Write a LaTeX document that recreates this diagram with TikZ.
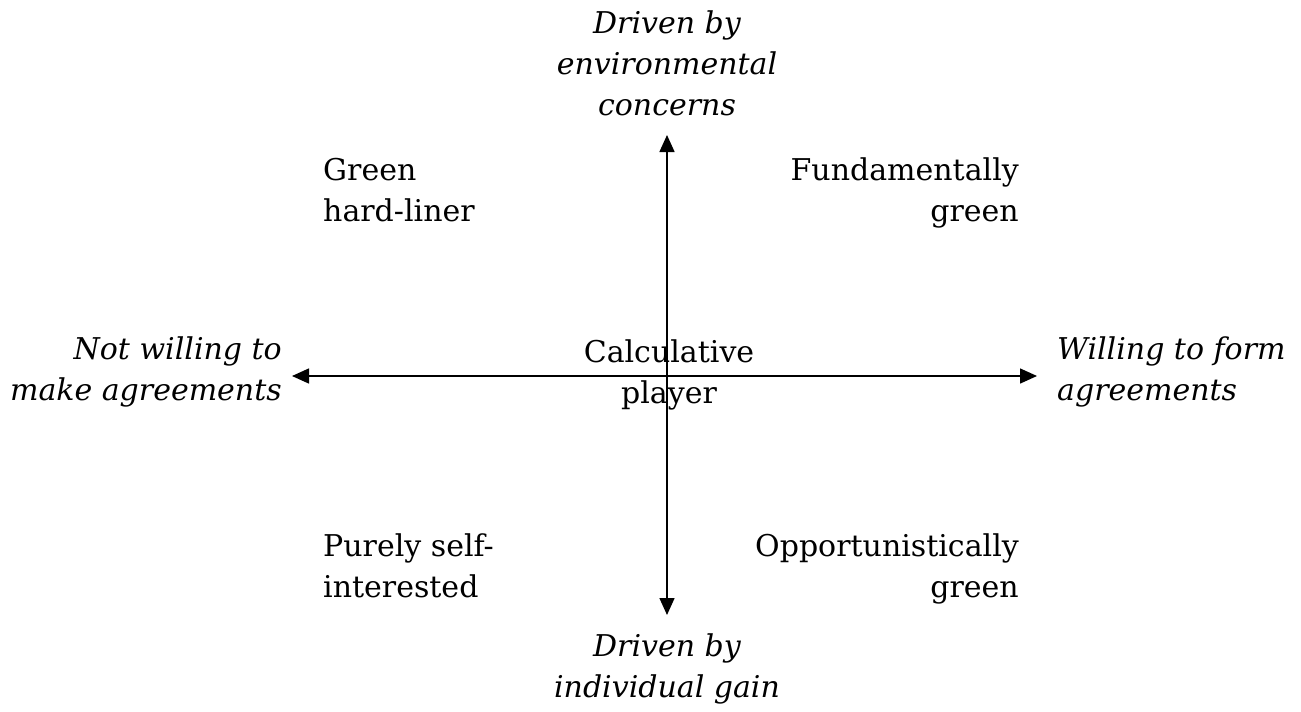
\documentclass[tikz,border=0pt]{standalone}
\usepackage{fontspec}
\setmainfont{DejaVu Serif}
\usetikzlibrary{arrows.meta,positioning}

\begin{document}
\begin{tikzpicture}[x=1pt,y=-1pt,inner sep=0pt,
    font=\fontsize{30}{41}\selectfont]
  \tikzstyle{quadrant}=[inner sep=0pt]
  \tikzstyle{pole}=[inner sep=0pt,font=\fontsize{30}{41}\selectfont\itshape]
  \tikzstyle{axis}=[line width=1.5pt,{Triangle[length=17pt,width=15pt]}-{Triangle[length=17pt,width=15pt]}]
  \useasboundingbox (0,0) rectangle (1301,712);

  % ends of the two axes
  \coordinate (west)  at (292,376);
  \coordinate (east)  at (1037,376);
  \coordinate (north) at (667,135);
  \coordinate (south) at (667,615);

  \path[axis] (west) edge (east);
  \path[axis] (north) edge (south);

  % poles (anchored at the baseline of the last line)
  \node[pole,align=center,anchor=base]      (environment) at (667,115)  {Driven by\\environmental\\concerns};
  \node[pole,align=center,anchor=base]      (gain)        at (667,697)  {Driven by\\individual gain};
  \node[pole,align=right,anchor=base east]  (notwilling)  at (282,400)  {Not willing to\\make agreements};
  \node[pole,align=left,anchor=base west]   (willing)     at (1057,400) {Willing to form\\agreements};

  % quadrants
  \node[quadrant,align=left,anchor=base west]  (hardliner)   at (323,221)  {Green\\hard-liner};
  \node[quadrant,align=right,anchor=base east] (fundamental) at (1019,221) {Fundamentally\\green};
  \node[quadrant,align=center,anchor=base]     (calculative) at (669,403)  {Calculative\\player};
  \node[quadrant,align=left,anchor=base west]  (selfish)     at (323,597)  {Purely self-\\interested};
  \node[quadrant,align=right,anchor=base east] (opportunist) at (1019,597) {Opportunistically\\green};
\end{tikzpicture}
\end{document}
